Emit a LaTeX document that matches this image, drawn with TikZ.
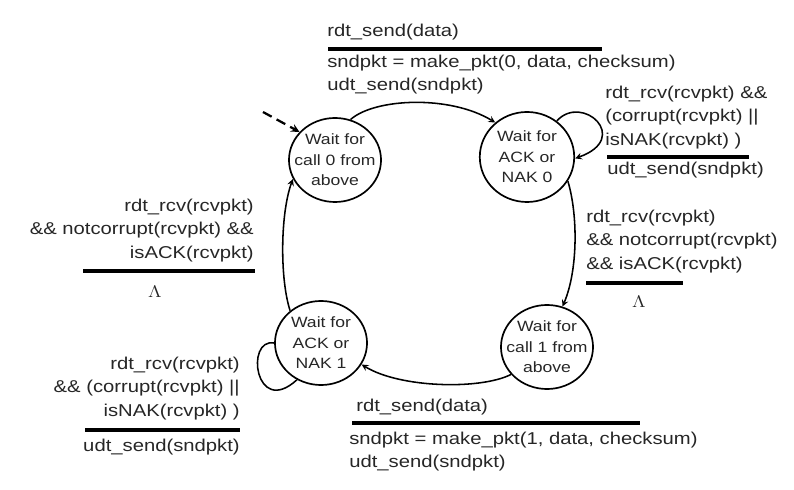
\documentclass[tikz,border=0pt]{standalone}
\usepackage{fontspec}
\setmainfont{Liberation Sans}
\usetikzlibrary{shapes.geometric}
\begin{document}
\begin{tikzpicture}[x=0.025cm,y=-0.025cm,
	every node/.style={xscale=1.18,text=black!85},
	state/.style={ellipse,draw=black,line width=1.2pt,inner xsep=-6pt,inner ysep=0pt,
		minimum width=1.95cm,minimum height=2.1cm,align=center,
		font=\fontsize{10.6}{14.6}\selectfont},
	lbl/.style={inner sep=0pt,font=\fontsize{12.2}{16.5}\selectfont},
	bar/.style={line width=2.2pt},
	trans/.style={line width=1.1pt,-stealth}]
			\useasboundingbox (0,0) rectangle (794,490);
			\node[state] (call0) at (335,160) {Wait for\\call 0 from\\above};
			\node[state,minimum width=2cm,minimum height=2.25cm] (ack0) at (527,157) {Wait for\\ACK or\\NAK 0};
			\node[state] (ack1) at (321,343) {Wait for\\ACK or\\NAK 1};
			\node[state] (call1) at (547,347) {Wait for\\call 1 from\\above};
			\coordinate (start) at (263,112);
			\draw[trans,dash pattern=on 7pt off 4pt,line width=1.6pt] (start) -- (call0.137);
			\draw[trans] (call0.72) .. controls (375,98) and (450,95) .. (ack0.128);
			\draw[trans] (ack0.55) .. controls (582,93) and (632,138) .. (ack0.-2);
			\draw[trans] (ack0.-35) .. controls (578,215) and (578,270) .. (call1.72);
			\draw[trans] (call1.222) .. controls (480,390) and (400,388) .. (ack1.-32);
			\draw[line width=1.1pt] (ack1.180) .. controls (245,338) and (255,418) .. (ack1.-119);
			\draw[trans] (ack1.129) .. controls (280,280) and (280,215) .. (call0.208);
			\node[lbl,anchor=north west] (ev0) at (327,24) {rdt\_send(data)};
			\draw[bar] (328,49) -- (602,49);
			\node[lbl,anchor=north west,align=left] (act0) at (327,55) {sndpkt = make\_pkt(0, data, checksum)\\udt\_send(sndpkt)};
			\node[lbl,anchor=north west,align=left] (ev1) at (605,86) {rdt\_rcv(rcvpkt) \&\&\\(corrupt(rcvpkt) ||\\isNAK(rcvpkt) )};
			\draw[bar] (607,157) -- (749,157);
			\node[lbl,anchor=north west] (act1) at (607,162) {udt\_send(sndpkt)};
			\node[lbl,anchor=north west,align=left] (ev2) at (586,210) {rdt\_rcv(rcvpkt)\\\&\& notcorrupt(rcvpkt)\\\&\& isACK(rcvpkt)};
			\draw[bar] (586,283) -- (683,283);
			\node[lbl] (act2) at (639,302) {$\Lambda$};
			\node[lbl,anchor=north west] (ev3) at (356,399) {rdt\_send(data)};
			\draw[bar] (352,423) -- (640,423);
			\node[lbl,anchor=north west,align=left] (act3) at (349,432) {sndpkt = make\_pkt(1, data, checksum)\\udt\_send(sndpkt)};
			\node[lbl,anchor=north east,align=right] (ev4) at (240,357) {rdt\_rcv(rcvpkt)\\\&\& (corrupt(rcvpkt) ||\\isNAK(rcvpkt) )};
			\draw[bar] (85,430) -- (240,430);
			\node[lbl,anchor=north east] (act4) at (240,439) {udt\_send(sndpkt)};
			\node[lbl,anchor=north east,align=right] (ev5) at (254,199) {rdt\_rcv(rcvpkt)\\\&\& notcorrupt(rcvpkt) \&\&\\isACK(rcvpkt)};
			\draw[bar] (83,271) -- (255,271);
			\node[lbl] (act5) at (155,292) {$\Lambda$};
\end{tikzpicture}
\end{document}
